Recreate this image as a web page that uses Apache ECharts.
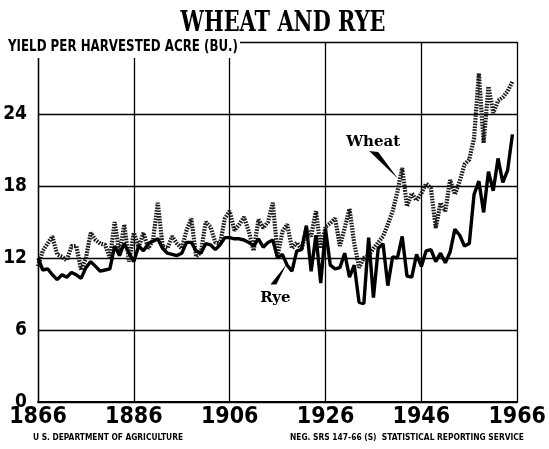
<!DOCTYPE html>
<html><head><meta charset="utf-8">
<script src="https://cdn.jsdelivr.net/npm/echarts@6/dist/echarts.min.js"></script>
<style>html,body{margin:0;padding:0;background:#fff}#c{width:549px;height:449px}</style>
</head><body><div id="c"></div>
<script>
const BASE_YEAR = 1866;
const years = [];
for (let y = 1866; y <= 1965; y++) years.push(y);

const wheat = [
 11.3,12.6,13.2,13.8,12.3,12.1,11.8,13.0,13.0,11.0,
 12.0,14.1,13.5,13.2,13.1,12.0,15.0,12.3,14.8,11.7,
 14.1,12.9,14.1,12.8,13.5,16.6,13.0,12.8,13.8,13.2,
 12.8,14.3,15.3,12.1,12.5,15.0,14.6,13.3,13.2,15.3,
 15.9,14.3,14.8,15.4,14.2,12.6,15.2,14.5,15.0,16.6,
 12.2,14.2,14.8,12.8,13.3,12.7,14.4,13.8,15.9,12.8,
 14.6,14.9,15.3,13.0,14.5,16.1,13.2,11.2,12.0,12.2,
 12.8,13.3,13.8,14.8,15.9,17.5,19.5,16.3,17.4,16.8,
 17.4,18.2,17.8,14.5,16.6,15.9,18.5,17.3,18.4,19.8,
 20.2,22.0,27.4,21.6,26.3,24.1,25.1,25.4,25.9,26.7
];
const rye = [
 12.0,11.0,11.1,10.6,10.2,10.6,10.4,10.8,10.6,10.3,
 11.2,11.7,11.3,10.9,11.0,11.1,13.0,12.2,13.2,12.4,
 11.7,13.0,12.6,13.2,13.4,13.6,12.8,12.4,12.3,12.2,
 12.4,13.3,13.3,12.6,12.4,13.2,13.1,12.7,13.1,13.7,
 13.7,13.6,13.6,13.5,13.3,13.0,13.6,12.9,13.3,13.5,
 12.0,12.3,11.4,10.9,12.6,12.7,14.7,10.9,13.9,9.9,
 14.4,11.4,11.1,11.2,12.4,10.4,11.4,8.3,8.2,13.7,
 8.7,12.8,13.2,9.7,12.1,12.0,13.8,10.5,10.4,12.3,
 11.3,12.6,12.7,11.7,12.4,11.6,12.5,14.4,13.9,13.0,
 13.2,17.3,18.4,15.8,19.2,17.6,20.3,18.3,19.3,22.3
];
const xTickLabels = ['1866','1886','1906','1926','1946','1966'];
const yTickLabels = ['0','6','12','18','24'];
const titleText = 'WHEAT AND RYE';
const yName = 'YIELD PER HARVESTED ACRE (BU.)';
const footLeft = 'U S. DEPARTMENT OF AGRICULTURE';
const footRight = 'NEG. SRS 147-66 (S)  STATISTICAL REPORTING SERVICE';
const wheatLabelYear = 1942, ryeLabelYear = 1917;

const chart = echarts.init(document.getElementById('c'), null, {renderer: 'canvas'});
const axisFont = '"Liberation Sans Narrow", "DejaVu Sans Condensed", sans-serif';
chart.setOption({
  animation: false,
  backgroundColor: '#fff',
  grid: {left: 38, right: 18, top: 42, bottom: 47},
  xAxis: {
    type: 'value', min: 0, max: 100, interval: 20,
    axisLine: {show: true, lineStyle: {color: '#000', width: 2}},
    axisTick: {show: false},
    splitLine: {show: true, lineStyle: {color: '#000', width: 1.3}},
    axisLabel: {color: '#000', fontFamily: axisFont, fontWeight: 'bold', fontSize: 23, margin: 4,
      formatter: v => xTickLabels[Math.round(v / 20)] || ''}
  },
  yAxis: {
    type: 'value', min: 0, max: 30, interval: 6,
    axisLine: {show: true, lineStyle: {color: '#000', width: 1.3}},
    axisTick: {show: false},
    splitLine: {show: true, lineStyle: {color: '#000', width: 1.3}},
    axisLabel: {color: '#000', fontFamily: axisFont, fontWeight: 'bold', fontSize: 19, margin: 11,
      formatter: v => yTickLabels[Math.round(v / 6)] || ''}
  },
  series: [
    {name: 'Wheat', type: 'line', symbol: 'none', z: 3,
     data: years.map((y, i) => [y - BASE_YEAR, wheat[i]]),
     lineStyle: {color: '#1a1a1a', width: 4.2, type: [1.6, 1.2], cap: 'butt'}},
    {name: 'Rye', type: 'line', symbol: 'none', z: 4,
     data: years.map((y, i) => [y - BASE_YEAR, rye[i]]),
     lineStyle: {color: '#000', width: 3.4}}
  ]
});

const mctx = document.createElement('canvas').getContext('2d');
function fitScale(text, font, width) {
  mctx.font = font;
  return width / mctx.measureText(text).width;
}
const titleFont = 'bold 27px "DejaVu Serif", serif';
const nameFont = 'bold 16px "Liberation Sans Narrow", "DejaVu Sans Condensed", sans-serif';
const footFont = 'bold 8px "DejaVu Sans", sans-serif';
const lblFont = 'bold 15px "DejaVu Serif", serif';

const pw = chart.convertToPixel({gridIndex: 0}, [wheatLabelYear - BASE_YEAR, wheat[wheatLabelYear - BASE_YEAR]]);
const pr = chart.convertToPixel({gridIndex: 0}, [ryeLabelYear - BASE_YEAR, rye[ryeLabelYear - BASE_YEAR]]);

chart.setOption({
  graphic: [
    {type: 'text', x: 283, y: 24, scaleX: fitScale(titleText, titleFont, 205), z: 100,
     style: {text: titleText, font: titleFont, fill: '#000', textAlign: 'center', textVerticalAlign: 'middle'}},
    {type: 'rect', shape: {x: 0, y: 34, width: 240, height: 24}, style: {fill: '#fff'}, z: 99},
    {type: 'text', x: 8, y: 47, scaleX: fitScale(yName, nameFont, 230), z: 100,
     style: {text: yName, font: nameFont, fill: '#000', textAlign: 'left', textVerticalAlign: 'middle'}},
    {type: 'text', x: 33, y: 438, scaleX: fitScale(footLeft, footFont, 150), z: 100,
     style: {text: footLeft, font: footFont, fill: '#000', textAlign: 'left', textVerticalAlign: 'middle'}},
    {type: 'text', x: 290, y: 438, scaleX: fitScale(footRight, footFont, 234), z: 100,
     style: {text: footRight, font: footFont, fill: '#000', textAlign: 'left', textVerticalAlign: 'middle'}},
    {type: 'text', x: pw[0] - 29, y: pw[1] - 26, z: 100,
     style: {text: 'Wheat', font: lblFont, fill: '#000', textAlign: 'center', textVerticalAlign: 'middle'}},
    {type: 'polygon', z: 100, shape: {points: [[pw[0] - 33, pw[1] - 17], [pw[0] - 24, pw[1] - 16], [pw[0] - 4, pw[1] + 11]]},
     style: {fill: '#000'}},
    {type: 'text', x: pr[0] - 7, y: pr[1] + 44, z: 100,
     style: {text: 'Rye', font: lblFont, fill: '#000', textAlign: 'center', textVerticalAlign: 'middle'}},
    {type: 'polygon', z: 100, shape: {points: [[pr[0] - 12, pr[1] + 30], [pr[0] - 6, pr[1] + 30], [pr[0] + 4, pr[1] + 10]]},
     style: {fill: '#000'}}
  ]
});
</script></body></html>
